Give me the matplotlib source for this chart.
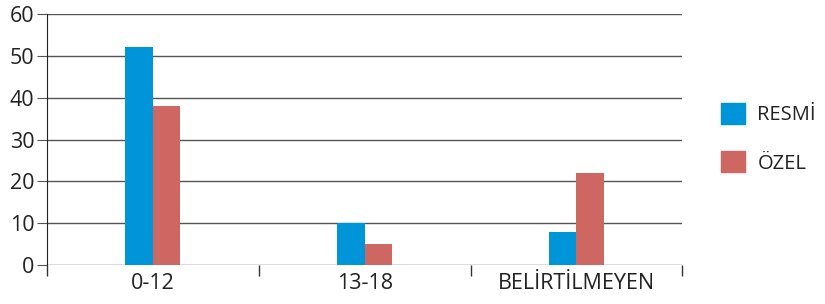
import numpy as np
import matplotlib.pyplot as plt
from matplotlib.patches import Patch

categories = ['0-12', '13-18', 'BELİRTİLMEYEN']
resmi = [52, 10, 8]
ozel = [38, 5, 22]
series_names = ['RESMİ', 'ÖZEL']
colors = ['#0095D9', '#CE6661']

plt.rcParams['font.family'] = ['Open Sans', 'DejaVu Sans']
fs = 15.5

fig = plt.figure(figsize=(8.25, 3.04), dpi=100)
ax = fig.add_axes([0.057, 0.128, 0.77, 0.826])

x = np.arange(len(categories))
w = 0.13
ax.bar(x - w/2, resmi, w, color=colors[0], zorder=3)
ax.bar(x + w/2, ozel, w, color=colors[1], zorder=3)

ax.set_xlim(-0.5, 2.5)
ax.set_ylim(0, 60)
ax.set_yticks(range(0, 61, 10))
ax.yaxis.grid(True, color='#555555', linewidth=1.0, zorder=0)
ax.tick_params(axis='y', length=7, color='#555555', labelsize=fs, pad=2,
               labelcolor='#222222')

ax.set_xticks(x)
ax.set_xticklabels(categories, fontsize=fs, color='#222222')
ax.tick_params(axis='x', which='major', length=0, pad=6)
ax.set_xticks([-0.5, 0.5, 1.5, 2.5], minor=True)
ax.tick_params(axis='x', which='minor', length=8, color='#333333', width=1)

for s in ['top', 'right', 'bottom']:
    ax.spines[s].set_visible(False)
ax.spines['left'].set_color('#222222')

handles = [Patch(color=c) for c in colors]
fig.legend(handles, series_names, loc='center left', bbox_to_anchor=(0.852, 0.545),
           frameon=False, fontsize=14.5, handlelength=1.2, handleheight=1.2,
           labelspacing=1.3, handletextpad=0.6, labelcolor='#222222')

fig.savefig('out.png', dpi=100)
